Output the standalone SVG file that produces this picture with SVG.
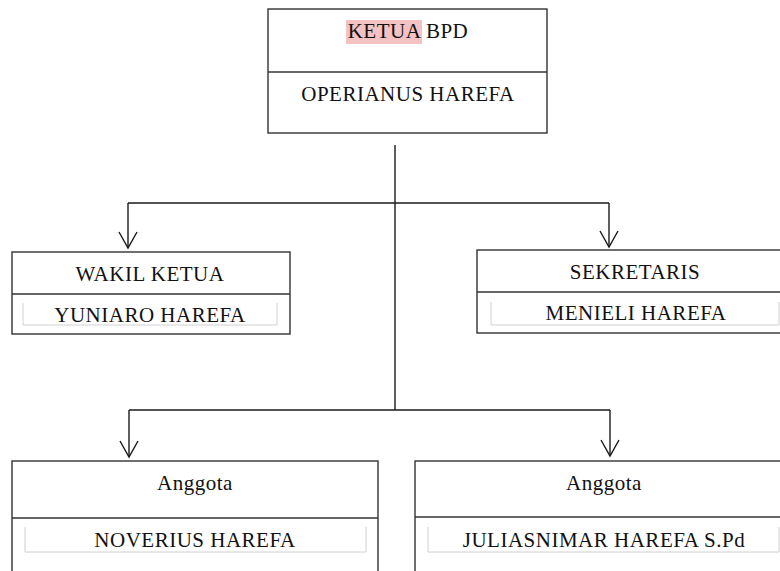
<svg xmlns="http://www.w3.org/2000/svg" width="780" height="571" viewBox="0 0 780 571">
<defs>
<style>
.box{fill:#fff;stroke:#333;stroke-width:1.4}
.div{stroke:#333;stroke-width:1.4}
.inner{fill:none;stroke:#d0d0d0;stroke-width:1}
.conn{fill:none;stroke:#1a1a1a;stroke-width:1.4}
.t{font-family:"Liberation Serif","Times New Roman",serif;font-size:21px;letter-spacing:0.5px;fill:#111;text-anchor:middle}
</style>
<marker id="arr" markerWidth="20" markerHeight="20" refX="17" refY="10" orient="auto" markerUnits="userSpaceOnUse" viewBox="0 0 20 20">
<path d="M1 1 L17 10 L1 19" fill="none" stroke="#1a1a1a" stroke-width="1.4"/>
</marker>
</defs>
<rect width="780" height="571" fill="#fff"/>
<g id="connectors">
<line class="conn" x1="395" y1="145" x2="395" y2="410"/>
<line class="conn" x1="128" y1="203" x2="609" y2="203"/>
<path class="conn" d="M128 203 V248" marker-end="url(#arr)"/>
<path class="conn" d="M609 203 V247" marker-end="url(#arr)"/>
<line class="conn" x1="129" y1="410" x2="610" y2="410"/>
<path class="conn" d="M129 410 V457" marker-end="url(#arr)"/>
<path class="conn" d="M610 410 V456" marker-end="url(#arr)"/>
</g>
<g id="ketua">
<rect class="box" x="268" y="9" width="279" height="124"/>
<line class="div" x1="268" y1="72" x2="547" y2="72"/>
<rect x="346" y="20" width="76" height="24" fill="#f4c2c2"/>
<text class="t" x="408" y="38">KETUA BPD</text>
<text class="t" x="408" y="101">OPERIANUS HAREFA</text>
</g>
<g id="wakil">
<rect class="box" x="12" y="252" width="278" height="82"/>
<line class="div" x1="12" y1="294" x2="290" y2="294"/>
<polyline class="inner" points="23,303 23,325 277,325 277,303"/>
<text class="t" x="150" y="281">WAKIL KETUA</text>
<text class="t" x="150" y="322">YUNIARO HAREFA</text>
</g>
<g id="sekretaris">
<rect class="box" x="477" y="250" width="310" height="83"/>
<line class="div" x1="477" y1="292" x2="787" y2="292"/>
<polyline class="inner" points="491,302 491,325 779,325 779,302"/>
<text class="t" x="635" y="279">SEKRETARIS</text>
<text class="t" x="636" y="320">MENIELI HAREFA</text>
</g>
<g id="anggota1">
<rect class="box" x="12" y="461" width="366" height="120"/>
<line class="div" x1="12" y1="518" x2="378" y2="518"/>
<polyline class="inner" points="25,527 25,552 366,552 366,527"/>
<text class="t" x="195" y="490">Anggota</text>
<text class="t" x="195" y="547">NOVERIUS HAREFA</text>
</g>
<g id="anggota2">
<rect class="box" x="415" y="461" width="380" height="120"/>
<line class="div" x1="415" y1="517" x2="795" y2="517"/>
<polyline class="inner" points="428,527 428,552 779,552 779,527"/>
<text class="t" x="604" y="490">Anggota</text>
<text class="t" x="604" y="547">JULIASNIMAR HAREFA S.Pd</text>
</g>
</svg>
